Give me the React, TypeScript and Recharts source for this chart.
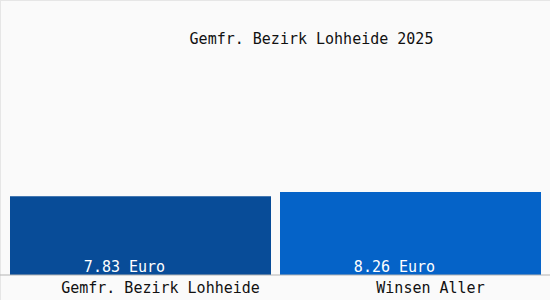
import { BarChart, Bar, XAxis, YAxis, Cell, LabelList } from 'recharts';

const regions = ['Gemfr. Bezirk Lohheide', 'Winsen Aller'];
const prices = [7.83, 8.26];
const barColors = ['#084c98', '#0563c8'];
const title = 'Gemfr. Bezirk Lohheide 2025';

const FONT = '"DejaVu Sans Mono", "Liberation Mono", monospace';

const data = regions.map((name, i) => ({ name, value: prices[i] }));

function ValueLabel(props: any) {
  const { x, y, width, height, value } = props;
  return (
    <text
      x={x + width / 2 - 16}
      y={y + height - 3}
      fill="#ffffff"
      fontFamily={FONT}
      fontSize={15}
      textAnchor="middle"
    >
      {`${Number(value).toFixed(2)} Euro`}
    </text>
  );
}

function RegionTick(props: any) {
  const { x, y, payload } = props;
  return (
    <text
      x={x + 20}
      y={y + 18}
      fill="#111111"
      fontFamily={FONT}
      fontSize={15}
      textAnchor="middle"
    >
      {payload.value}
    </text>
  );
}

export default function App() {
  return (
    <div
      style={{
        position: 'absolute',
        left: 0,
        top: 0,
        width: 550,
        height: 300,
        background: '#fafafa',
        boxSizing: 'border-box',
        borderLeft: '1px solid #e6e6e6',
        borderTop: '1px solid #e6e6e6',
      }}
    >
      <div
        style={{
          position: 'absolute',
          left: 0,
          width: 621,
          top: 29,
          textAlign: 'center',
          fontFamily: FONT,
          fontSize: 15,
          color: '#111',
          lineHeight: '18px',
        }}
      >
        {title}
      </div>
      <div style={{ position: 'absolute', left: -1, top: -1 }}>
        <BarChart
          width={550}
          height={300}
          data={data}
          margin={{ top: 74, right: 0, bottom: 0, left: 0 }}
          barCategoryGap={4.5}
        >
          <YAxis hide domain={[0, 20]} />
          <XAxis
            dataKey="name"
            height={25}
            padding={{ left: 5.5, right: 4.5 }}
            tickLine={false}
            tickSize={0}
            tickMargin={0}
            axisLine={{ stroke: '#b4b4b4' }}
            tick={<RegionTick />}
            interval={0}
          />
          <Bar dataKey="value" isAnimationActive={false}>
            {data.map((d, i) => (
              <Cell key={d.name} fill={barColors[i]} />
            ))}
            <LabelList dataKey="value" content={<ValueLabel />} />
          </Bar>
        </BarChart>
      </div>
    </div>
  );
}
